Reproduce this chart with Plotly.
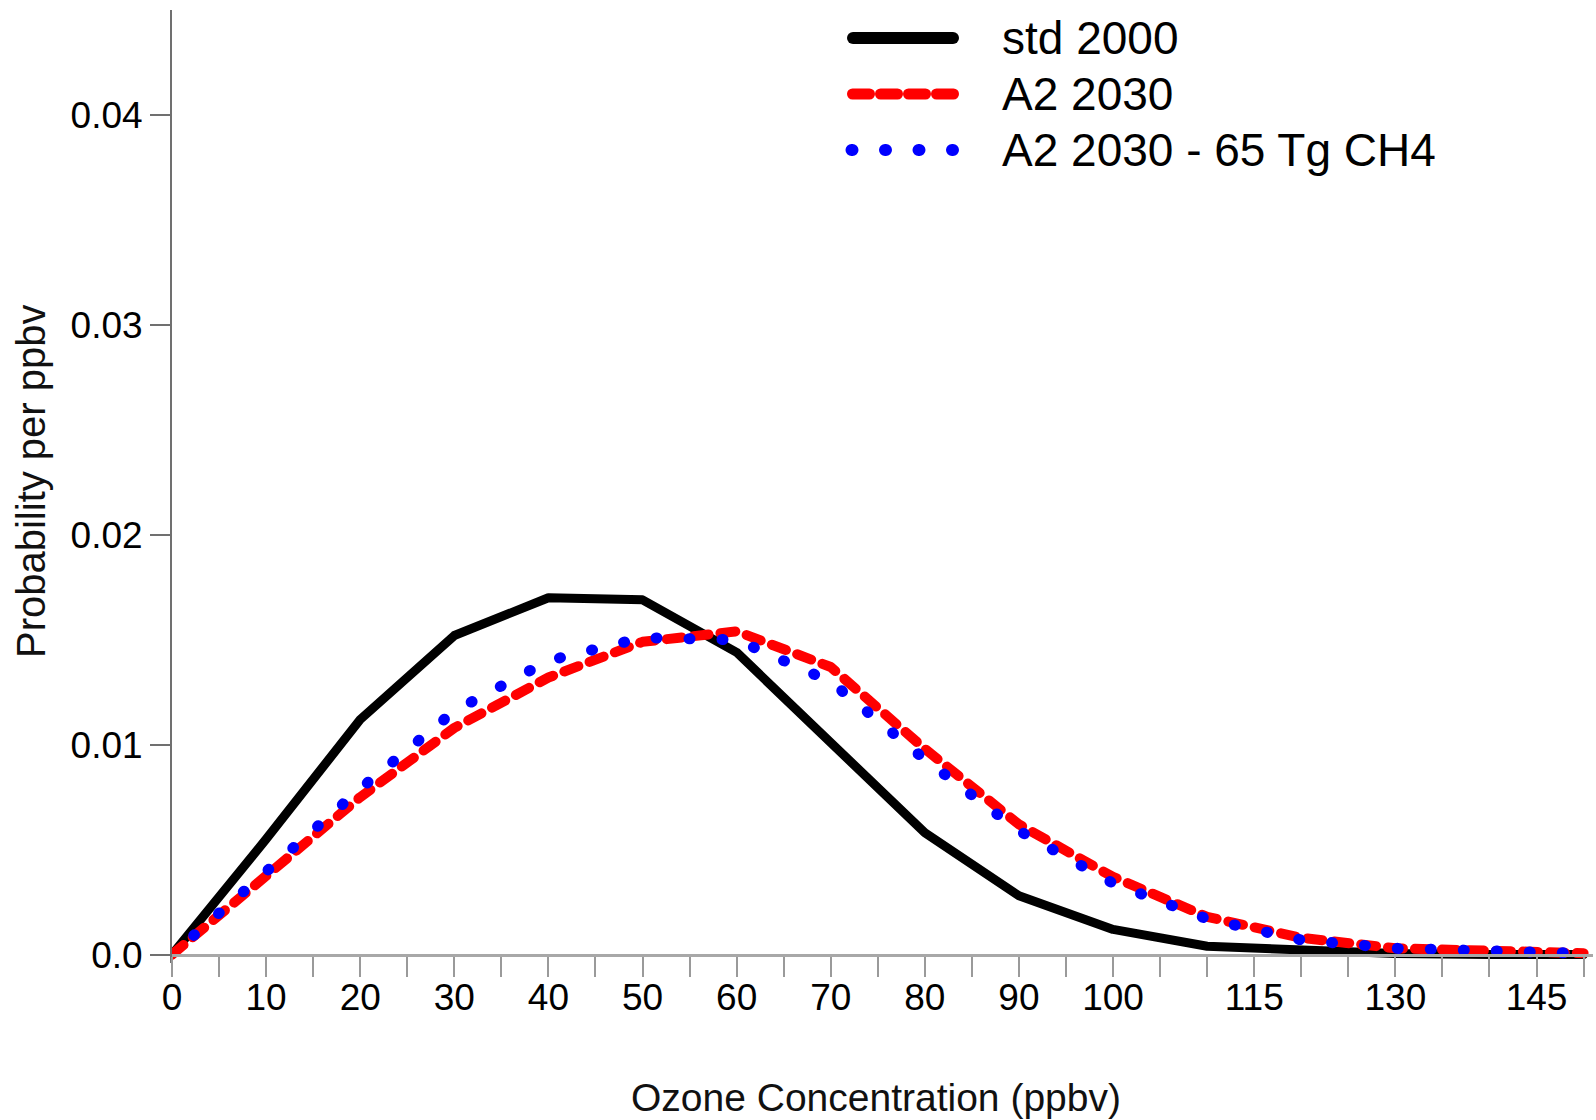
import plotly.graph_objects as go

# Ozone concentration bins (ppbv)
ozone_ppbv = [0, 10, 20, 30, 40, 50, 60, 70, 80, 90, 100, 110, 120, 130, 140, 150]

# Probability density per ppbv for each scenario
std_2000 = [0.0, 0.0055, 0.0112, 0.0152, 0.0170, 0.0169, 0.0144, 0.0101, 0.0058,
            0.0028, 0.0012, 0.0004, 0.00018, 0.00005, 0.00001, 0.0]
a2_2030 = [0.0, 0.0038, 0.0075, 0.0108, 0.0132, 0.0149, 0.0154, 0.0137, 0.0098,
           0.0062, 0.0037, 0.0018, 0.0008, 0.0003, 0.00013, 0.00007]
a2_2030_ch4 = [0.0, 0.0040, 0.0079, 0.0116, 0.0140, 0.0151, 0.0150, 0.0130, 0.0093,
               0.0059, 0.0034, 0.0017, 0.0007, 0.0003, 0.00012, 0.00006]

series_names = ["std 2000", "A2 2030", "A2 2030 - 65 Tg CH4"]

# Axis ticks
x_tick_vals = [0, 5, 10, 15, 20, 25, 30, 35, 40, 45, 50, 55, 60, 65, 70, 75, 80, 85,
               90, 95, 100, 105, 110, 115, 120, 125, 130, 135, 140, 145, 150]
x_tick_text = ["0", "", "10", "", "20", "", "30", "", "40", "", "50", "", "60", "",
               "70", "", "80", "", "90", "", "100", "", "", "115", "", "", "130", "",
               "", "145", ""]
y_tick_vals = [0.0, 0.01, 0.02, 0.03, 0.04]
y_tick_text = ["0.0", "0.01", "0.02", "0.03", "0.04"]

FONT = "Liberation Sans, Arial, Helvetica, sans-serif"
W, H = 1596, 1120
ML, MR, MT, MB = 172, 3, 10, 157
Y_RANGE = [-0.0004, 0.045]
X_RANGE = [0, 151]

styles = [
    dict(color="black", width=9, dash="solid"),
    dict(color="#ff0000", width=10, dash="15px,12px"),
    dict(color="#0000ff", width=11, dash="1px,32px"),
]
uids = ["black", "red", "blue"]

fig = go.Figure()
for name, ys, st, uid in zip(series_names, [std_2000, a2_2030, a2_2030_ch4], styles, uids):
    fig.add_trace(go.Scatter(
        x=ozone_ppbv, y=ys, mode="lines", name=name, uid=uid,
        line=dict(color=st["color"], width=st["width"], dash=st["dash"]),
        showlegend=False, hoverinfo="skip",
    ))

pw = W - ML - MR
ph = H - MT - MB


def px_x(px):
    return (px - ML) / pw


def px_y(py):
    return (H - MB - py) / ph


# Hand-drawn legend: sample line plus label for each series
legend_rows = [38, 94, 150]
legend_lines = [
    dict(x0=853, x1=953, color="black", width=12, dash="solid"),
    dict(x0=852.5, x1=953.5, color="#ff0000", width=11, dash="17px,11px"),
    dict(x0=851.5, x1=953.5, color="#0000ff", width=12, dash="1px,32.5px"),
]
for name, row, ln in zip(series_names, legend_rows, legend_lines):
    fig.add_shape(type="line", xref="paper", yref="paper",
                  x0=px_x(ln["x0"]), x1=px_x(ln["x1"]), y0=px_y(row), y1=px_y(row),
                  line=dict(color=ln["color"], width=ln["width"], dash=ln["dash"]))
    fig.add_annotation(xref="paper", yref="paper", x=px_x(1000), y=px_y(row),
                       xanchor="left", yanchor="middle", showarrow=False,
                       text=name, font=dict(family=FONT, size=46, color="black"))

# Axis titles
fig.add_annotation(xref="paper", yref="paper", x=px_x(876), y=px_y(1097),
                   xanchor="center", yanchor="middle", showarrow=False,
                   text="Ozone Concentration (ppbv)",
                   font=dict(family=FONT, size=39, color="#111"))
fig.add_annotation(xref="paper", yref="paper", x=px_x(31), y=px_y(481),
                   xanchor="center", yanchor="middle", showarrow=False, textangle=-90,
                   text="Probability per ppbv",
                   font=dict(family=FONT, size=40, color="#111"))

zero_pos = (0 - Y_RANGE[0]) / (Y_RANGE[1] - Y_RANGE[0])

fig.update_layout(
    width=W, height=H,
    margin=dict(l=ML, r=MR, t=MT, b=MB, pad=0),
    paper_bgcolor="white", plot_bgcolor="white",
    font=dict(family=FONT, color="black"),
    xaxis=dict(
        range=X_RANGE, anchor="free", position=zero_pos,
        showgrid=False, zeroline=False,
        showline=True, linecolor="#a8a8a8", linewidth=3,
        ticks="outside", ticklen=20, tickwidth=2, tickcolor="#9a9a9a",
        tickmode="array", tickvals=x_tick_vals, ticktext=x_tick_text,
        tickfont=dict(family=FONT, size=37, color="black"),
        ticklabelstandoff=-11,
    ),
    yaxis=dict(
        range=Y_RANGE,
        showgrid=False, zeroline=False,
        showline=True, linecolor="#707070", linewidth=2,
        ticks="outside", ticklen=20, tickwidth=2, tickcolor="#707070",
        tickmode="array", tickvals=y_tick_vals, ticktext=y_tick_text,
        tickfont=dict(family=FONT, size=37, color="black"),
    ),
)

# Round line caps so dashes become rounded segments and dots become circles
post_js = """
var s = document.createElement('style');
s.textContent = '.scatterlayer .js-line, .shapelayer path { stroke-linecap: round !important; stroke-linejoin: round !important; }' +
                ' .traceblue .js-line { stroke-dashoffset: 4px; }';
document.head.appendChild(s);
"""

fig.write_html("out.html", post_script=post_js)
